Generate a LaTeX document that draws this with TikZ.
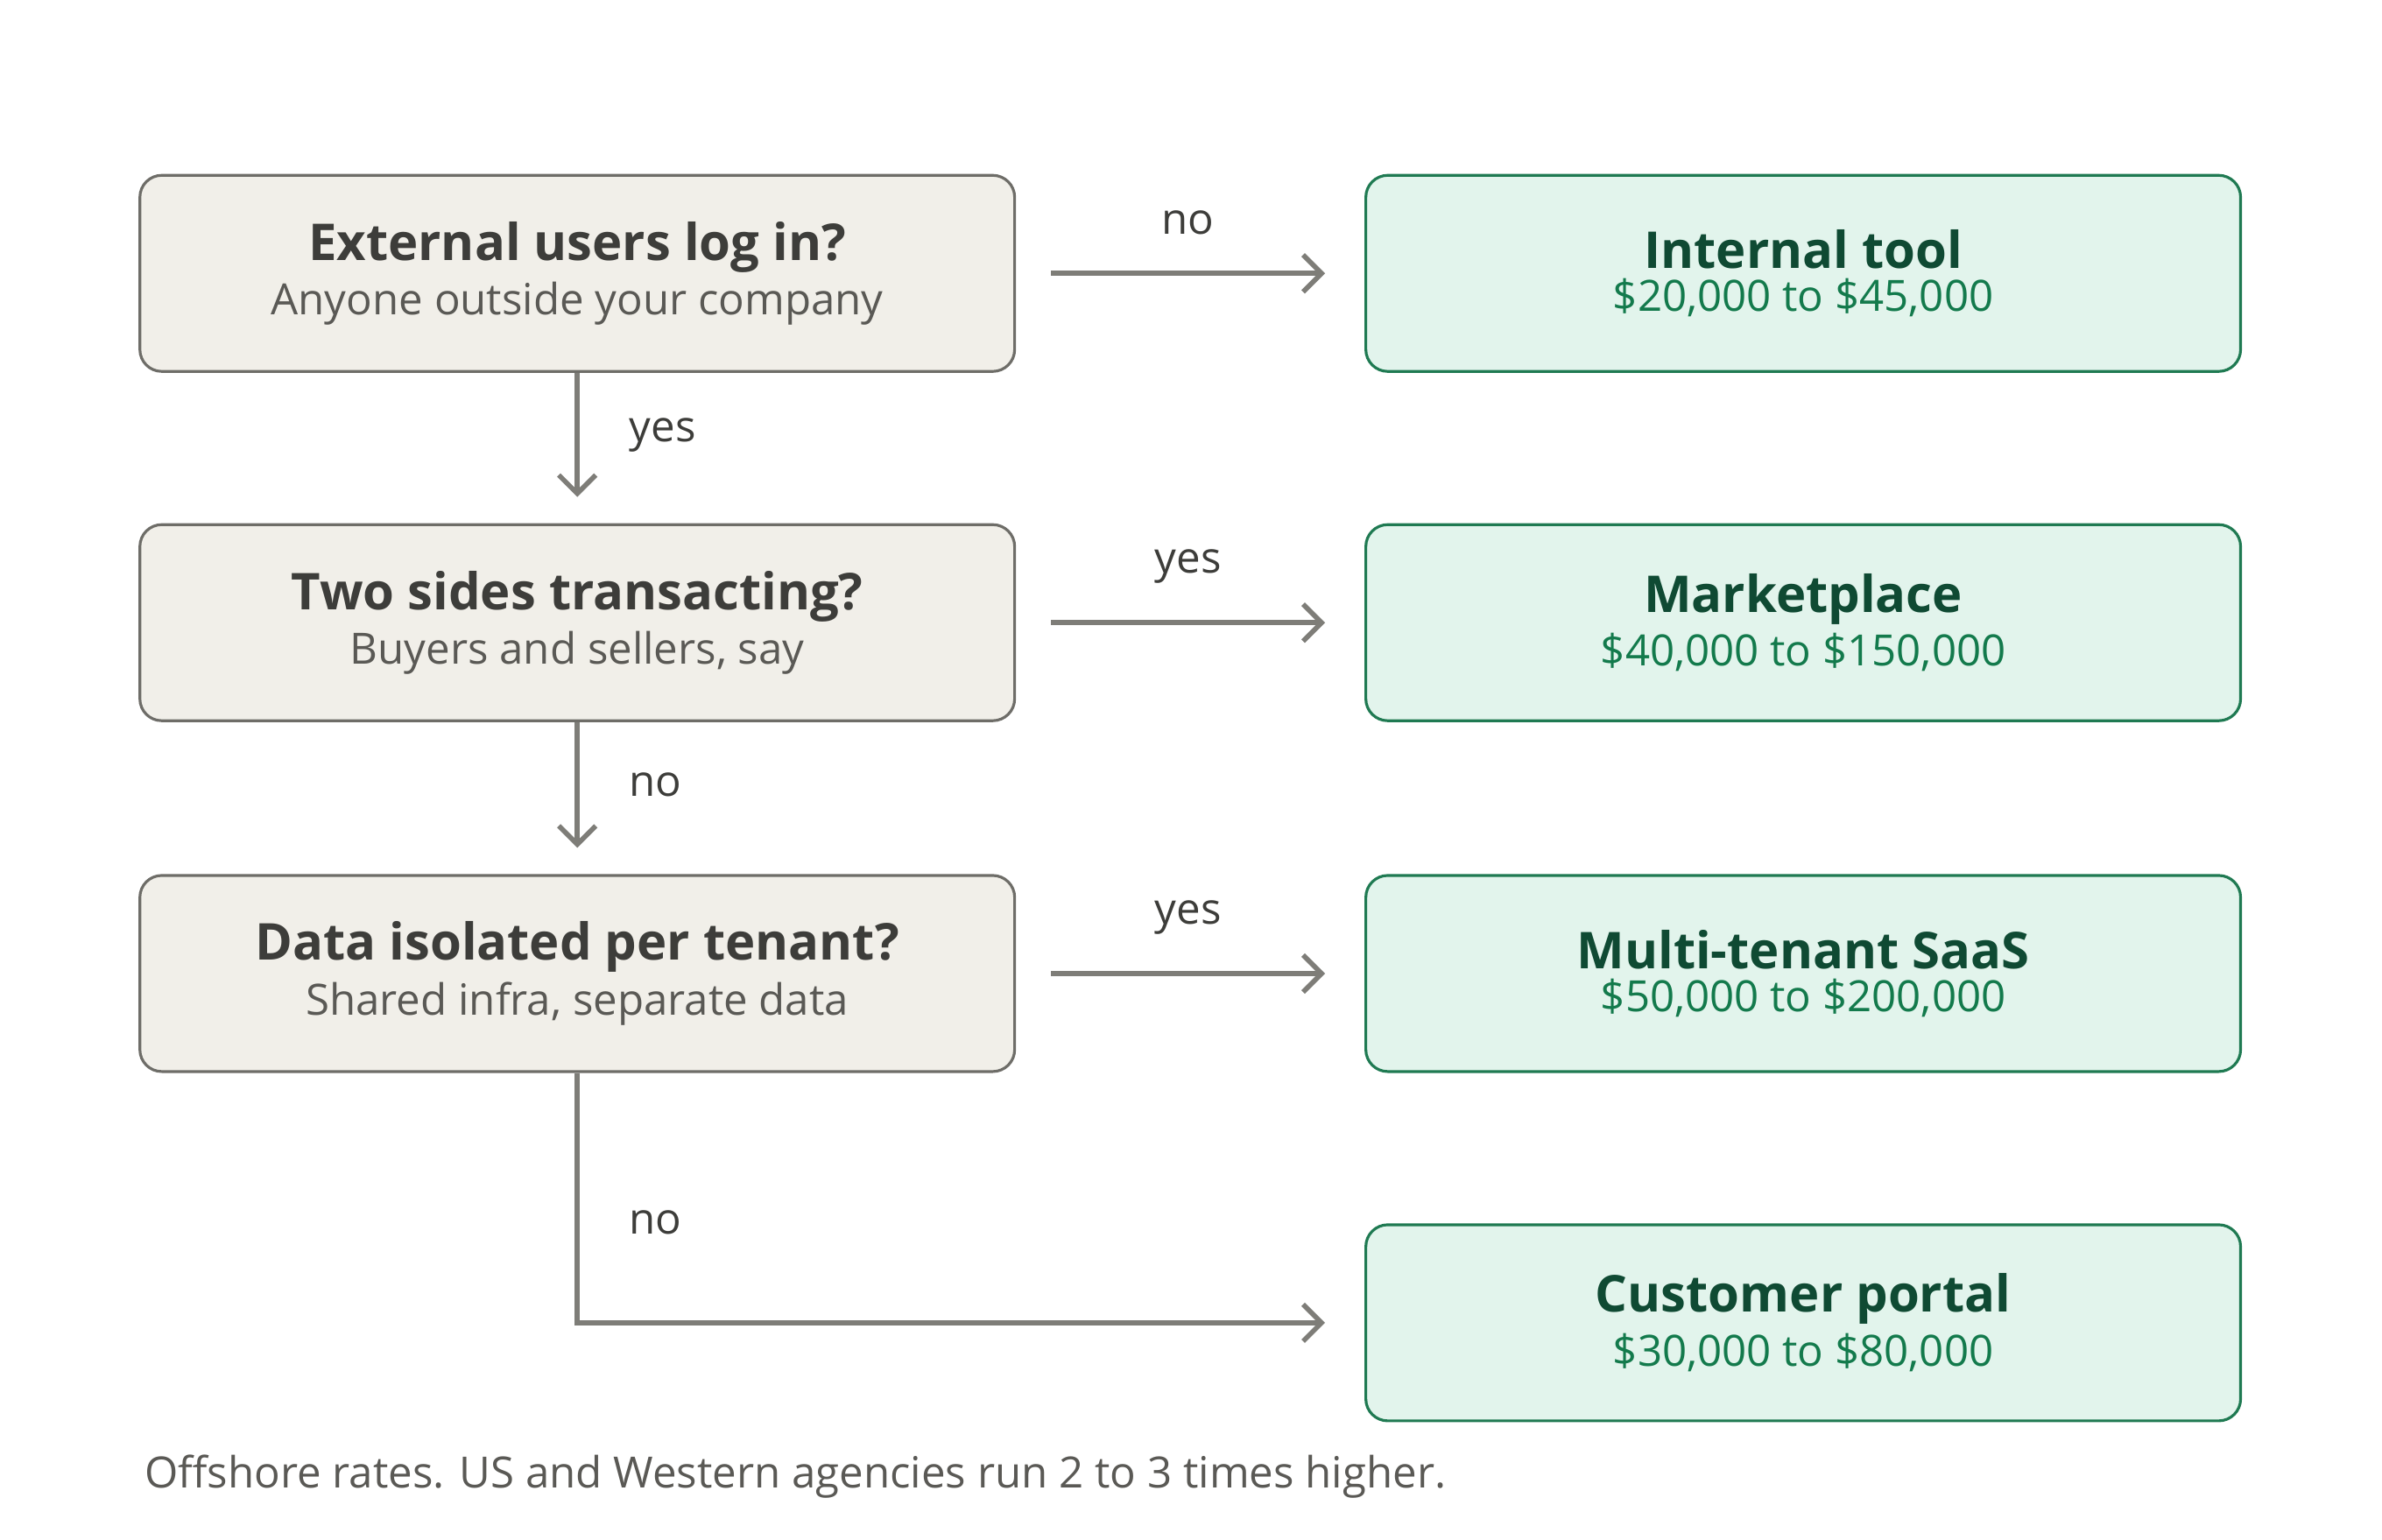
\documentclass[tikz,border=0pt]{standalone}
\usepackage{fontspec}
\setmainfont{Open Sans}
\usetikzlibrary{positioning,arrows.meta}
\definecolor{qfill}{HTML}{F1EFE9}
\definecolor{qline}{HTML}{6E6D68}
\definecolor{qtext}{HTML}{3D3D3A}
\definecolor{qsub}{HTML}{5A5955}
\definecolor{afill}{HTML}{E2F4EC}
\definecolor{aline}{HTML}{1F7A52}
\definecolor{atext}{HTML}{0F4A33}
\definecolor{asub}{HTML}{137A4C}
\definecolor{conn}{HTML}{7E7D78}
\tikzset{
  question/.style={draw=qline, fill=qfill, rounded corners=0.25cm, line width=0.9pt,
    minimum width=9.99cm, minimum height=2.24cm, align=center, text=qtext},
  answer/.style={draw=aline, fill=afill, rounded corners=0.25cm, line width=0.9pt,
    minimum width=9.99cm, minimum height=2.24cm, align=center, text=atext},
  link/.style={draw=conn, line width=1.6pt, -{Straight Barb[length=6pt,width=12pt]}},
  lbl/.style={text=qtext, font=\fontsize{14}{16}\selectfont}
}
\newcommand{\qbox}[2]{{\fontsize{16.5}{22}\selectfont\bfseries #1}\\[2pt]{\fontsize{14}{18}\selectfont\color{qsub}#2}}
\newcommand{\abox}[2]{{\fontsize{16.5}{22}\selectfont\bfseries #1}\\[2pt]{\fontsize{14}{18}\selectfont\color{asub}#2}}
\begin{document}
\begin{tikzpicture}[x=0.01735cm,y=-0.01735cm]
  \useasboundingbox (0,0) rectangle (1568,1014);
  % questions
  \node [question] (users) at (380,180) {\qbox{External users log in?}{Anyone outside your company}};
  \node [question] (sides) at (380,410) {\qbox{Two sides transacting?}{Buyers and sellers, say}};
  \node [question] (data) at (380,641) {\qbox{Data isolated per tenant?}{Shared infra, separate data}};
  % answers
  \node [answer] (tool) at (1187,180) {\abox{Internal tool}{\$20,000 to \$45,000}};
  \node [answer] (market) at (1187,410) {\abox{Marketplace}{\$40,000 to \$150,000}};
  \node [answer] (saas) at (1187,641) {\abox{Multi-tenant SaaS}{\$50,000 to \$200,000}};
  \node [answer] (portal) at (1187,871) {\abox{Customer portal}{\$30,000 to \$80,000}};
  % connectors
  \draw [link] ([xshift=0.4cm]users.east) -- ([xshift=-0.45cm]tool.west) node [midway, above=0.3cm, lbl] {no};
  \draw [link] ([xshift=0.4cm]sides.east) -- ([xshift=-0.45cm]market.west) node [midway, above=0.3cm, lbl] {yes};
  \draw [link] ([xshift=0.4cm]data.east) -- ([xshift=-0.45cm]saas.west) node [midway, above=0.3cm, lbl] {yes};
  \draw [link] (users.south) -- ([yshift=0.3cm]sides.north) node [midway, right=0.45cm, lbl] {yes};
  \draw [link] (sides.south) -- ([yshift=0.3cm]data.north) node [midway, right=0.45cm, lbl] {no};
  \draw [link] (data.south) |- ([xshift=-0.45cm]portal.west) node [pos=0.3, right=0.45cm, lbl] {no};
  % footnote
  \node [anchor=west, text=qsub, font=\fontsize{14}{16}\selectfont] (note) at (88,972) {Offshore rates. US and Western agencies run 2 to 3 times higher.};
\end{tikzpicture}
\end{document}
